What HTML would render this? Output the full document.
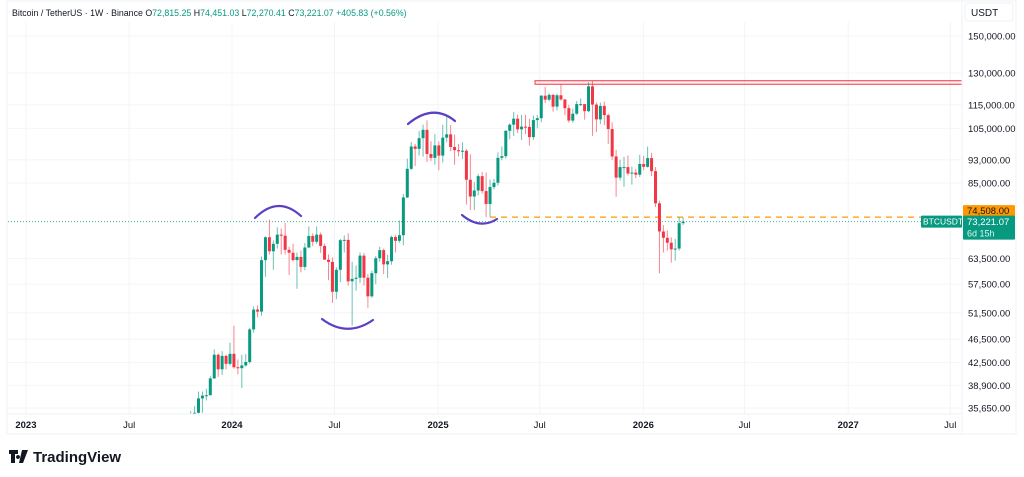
<!DOCTYPE html>
<html><head><meta charset="utf-8"><style>
body{margin:0;background:#fff;width:1024px;height:477px;overflow:hidden;font-family:"Liberation Sans",sans-serif}
svg{display:block}
</style></head><body>
<svg id="c" width="1024" height="477" xmlns="http://www.w3.org/2000/svg">
<rect x="7" y="1" width="1009" height="433" fill="#fff" stroke="#eef0f3"/>
<g id="grid"></g>
<g id="ann"></g>
<g id="candles"></g>
<g id="axes"></g>
<text x="12" y="16" font-size="8.8" fill="#131722">Bitcoin / TetherUS · 1W · Binance <tspan fill="#131722">O</tspan><tspan fill="#089981">72,815.25</tspan>  <tspan fill="#131722">H</tspan><tspan fill="#089981">74,451.03</tspan>  <tspan fill="#131722">L</tspan><tspan fill="#089981">72,270.41</tspan>  <tspan fill="#131722">C</tspan><tspan fill="#089981">73,221.07  +405.83 (+0.56%)</tspan></text>
<rect x="965" y="3" width="48" height="18" rx="3" fill="#fff" stroke="#eef0f3"/>
<text x="971" y="16" font-size="10" fill="#131722">USDT</text>
<g>
<path d="M9 450h9v4h-3v9h-4v-9h-2z M18 455a2 2 0 1 0 0.01 0z M22 450h6l-5 13h-4z" fill="#131722"/>
<text x="33" y="462" font-size="15" font-weight="bold" fill="#131722">TradingView</text>
</g>
</svg>
<script>
const closes=[34500,35000,37000,37400,37450,39970,43800,41400,43600,42280,43950,41730,41580,42030,42580,48300,52140,51730,63110,68950,65300,67210,69650,69360,65660,64940,63120,63900,61480,66270,69290,67750,69650,66670,63210,62680,55850,60800,68170,68250,58160,58710,58970,64220,58970,54880,60000,63580,65600,62090,62850,69000,68000,69500,80400,89800,97900,97000,101100,104400,95100,93700,98300,94500,101300,102600,97700,96500,96100,96300,86100,80700,82600,87300,82400,78400,83700,85100,93700,94300,104000,106500,109000,104600,105700,105600,101500,108400,109200,119100,117300,119500,114200,119300,117400,113500,108200,111100,115300,115300,112200,123500,115100,108700,114500,110500,104700,94200,86800,90400,90400,88200,88500,87800,91500,90500,93600,89000,78600,70500,68800,67500,65800,66000,72800,73221];
const firstOpen=30500;
const highs=[35200,35900,38000,38000,38400,40300,44700,44000,44400,43800,45900,49000,43000,43800,43900,48600,52800,53000,64000,69200,73800,68100,71700,71300,72800,66500,67200,65000,65500,67400,71900,70000,71900,70200,67300,64500,63800,61400,68500,69400,70000,62700,61800,65000,64900,59800,60600,64100,66500,66000,64400,69400,69500,73600,81500,93400,99600,98900,103900,106500,108300,99900,102700,99800,106400,109600,106400,102500,98800,99500,96900,95000,85300,88000,88700,88500,86100,86400,95700,97900,104300,107100,111900,110700,110500,110600,108900,110300,110500,119500,123200,120200,119800,120000,124500,117600,115000,113300,116700,117900,115400,125500,126200,116100,116000,116400,111200,107500,96600,93000,94100,94600,90600,89800,94800,94400,97900,95500,90400,79400,72200,70800,68900,68500,74500,74451];
const lows=[30300,33400,34500,35000,36700,37500,39900,40200,40500,41400,42000,41500,40600,38500,41800,42300,47700,50600,50900,59200,64500,60800,66000,64500,64500,59600,62800,56500,60200,60700,66100,66600,67200,64900,63400,58400,53500,54300,58000,65000,57200,49000,56100,57800,57200,52500,54600,57500,62700,59800,58900,62000,65000,67500,66800,80200,89300,90800,94500,94100,92200,92500,91200,89300,92000,99500,96200,91200,94200,93300,78200,76600,76600,81100,81600,74500,74600,83000,84200,92800,93400,100700,102000,103100,100400,102700,98200,100400,105000,107500,115700,116500,112000,112600,116800,110600,107300,107300,110600,114400,108600,111800,102000,103500,106700,106300,98900,93000,80600,85900,83800,87500,84500,86600,87000,89300,90200,87300,77500,60000,65000,65500,62500,63000,65500,72270];
const priceTicks=[150000,130000,115000,105000,93000,85000,63500,57500,51500,46500,42500,38900,35650];
const timeLabels=["2023","Jul","2024","Jul","2025","Jul","2026","Jul","2027","Jul"];
const timeWeeks=[-52.3,-26.1,0,26,52.3,78.1,104.4,130.1,156.4,182.3];
const startWeek=-10;
const lastPrice=73221.07, levelPrice=74508, zoneLow=124500, zoneHigh=126200;

const NS="http://www.w3.org/2000/svg";
const PX0=232, PXW=3.94, PTOP=36, PK=258.9, PREF=150000;
const xW=w=>PX0+w*PXW;
const y=p=>PTOP+PK*Math.log(PREF/p);
function mk(tag,at,parent){const e=document.createElementNS(NS,tag);for(const k in at)e.setAttribute(k,at[k]);parent.appendChild(e);return e;}
const grid=document.getElementById('grid'),axes=document.getElementById('axes'),cg=document.getElementById('candles'),ann=document.getElementById('ann');

priceTicks.forEach(p=>{
  const l=mk('line',{x1:8,x2:962,y1:y(p),y2:y(p),stroke:'#f5f6f8'},grid);
  
  
  const t=mk('text',{x:968,y:y(p)+3.5,'font-size':9.5,fill:'#131722'},axes);
  t.textContent=p.toLocaleString('en-US',{minimumFractionDigits:2});
  
  
});
timeLabels.forEach((s,i)=>{
  const x=xW(timeWeeks[i]);
  const l=mk('line',{x1:x,x2:x,y1:22,y2:414,stroke:'#f3f4f6'},grid);
  
  
  const t=mk('text',{x:x,y:428,'font-size':9.5,fill:'#131722','text-anchor':'middle','font-weight':s.length==4?'bold':'normal'},axes);
  t.textContent=s;
  
  
});
let a=mk('line',{x1:962,x2:962,y1:1,y2:434,stroke:'#eef0f3'},axes);


a=mk('line',{x1:7,x2:962,y1:414,y2:414,stroke:'#eef0f3'},axes);



let e=mk('rect',{x:535,y:y(zoneHigh),width:962-535,height:y(zoneLow)-y(zoneHigh),fill:'rgba(242,54,69,0.08)',stroke:'#f23645','stroke-width':1},ann);


e=mk('line',{x1:490,x2:962,y1:y(levelPrice),y2:y(levelPrice),stroke:'#ff9800','stroke-width':1.2,'stroke-dasharray':'6 5'},ann);


e=mk('line',{x1:8,x2:962,y1:y(lastPrice),y2:y(lastPrice),stroke:'#26a69a','stroke-width':0.8,'stroke-dasharray':'1 2'},ann);


[['M255 218 Q278 195 301 216','arc-top-1'],['M322 319 Q347 338 373 320','arc-bottom-1'],['M408 124 Q433 103 455 121','arc-top-2'],['M462 215 Q480 230 497 219','arc-bottom-2']].forEach(([d,n])=>{
  const p=mk('path',{d:d,fill:'none',stroke:'#5b3fc4','stroke-width':2.2,'stroke-linecap':'round'},ann);
  
  
});

closes.forEach((c,i)=>{
  const o=i?closes[i-1]:firstOpen;
  const x=xW(startWeek+i)-2;
  const col=c>=o?'#089981':'#f23645';
  const g=mk('g',{},cg);
  
  
  mk('line',{x1:x,x2:x,y1:Math.min(y(highs[i]),414),y2:Math.min(y(lows[i]),414),stroke:col,'stroke-width':1,opacity:0.6},g);
  const yt=y(Math.max(o,c)), yb=y(Math.min(o,c));
  if(yt<414) mk('rect',{x:x-1.5,y:yt,width:3,height:Math.max(1,Math.min(yb,414)-yt),fill:col},g);
});

function box(x,yy,w,h,fill,txt,name,tx,fs){const g=mk('g',{},axes);mk('rect',{x:x,y:yy,width:w,height:h,fill:fill,rx:1},g);const t=mk('text',{x:tx||x+3,y:yy+h-3,'font-size':fs||9.5,fill:name=='level-price-label'?'#131722':'#fff'},g);t.textContent=txt;return g;}
box(963,y(levelPrice)-12,52,12,'#ff9800',levelPrice.toLocaleString('en-US',{minimumFractionDigits:2}),'level-price-label',967);
box(963,y(lastPrice)-6,52,24,'#089981','','last-price-label');
let t=mk('text',{x:967,y:y(lastPrice)+3.5,'font-size':9.5,fill:'#fff'},axes);
t.textContent=lastPrice.toLocaleString('en-US',{minimumFractionDigits:2});


t=mk('text',{x:967,y:y(lastPrice)+15,'font-size':9,fill:'#dff5ef'},axes);
t.textContent='6d 15h';


box(921,y(lastPrice)-6,41,12,'#089981','BTCUSDT','symbol-price-tag',923,8.5);
</script>
</body></html>
